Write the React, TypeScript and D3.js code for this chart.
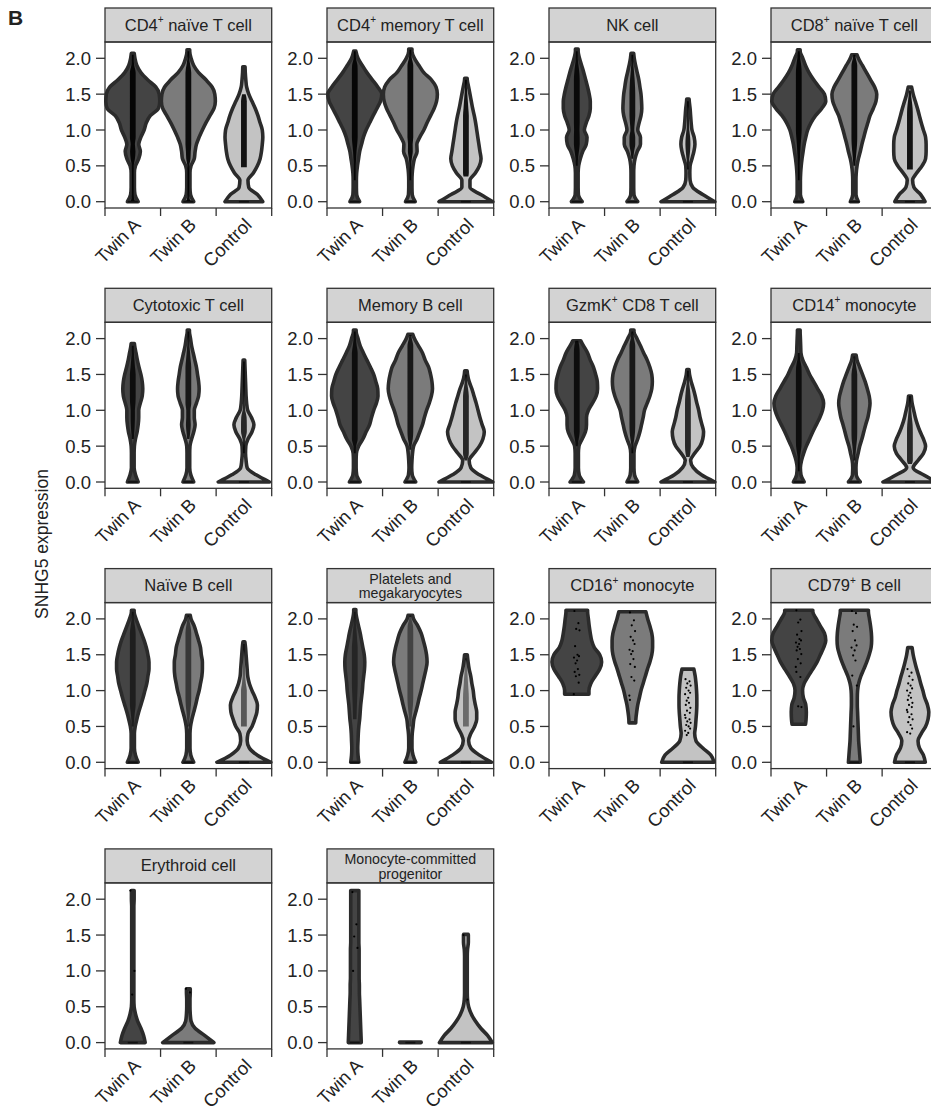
import * as d3 from "d3";

// groups, colours and axis values
const GROUPS = ["Twin A", "Twin B", "Control"];
const FILLS = ["#444444", "#7b7b7b", "#c3c3c3"];
const Y_TICKS = [0, 0.5, 1.0, 1.5, 2.0];
// violin widths are read at these expression levels
const Y_GRID = [0, 0.1, 0.2, 0.3, 0.4, 0.5, 0.6, 0.7, 0.8, 0.9, 1.0, 1.1, 1.2, 1.3, 1.4, 1.5, 1.6, 1.7, 1.8, 1.9, 2.0, 2.1];

// "^+" = superscript plus, "|" = line break
const TITLES = [
  "CD4^+ naïve T cell", "CD4^+ memory T cell", "NK cell", "CD8^+ naïve T cell",
  "Cytotoxic T cell", "Memory B cell", "GzmK^+ CD8 T cell", "CD14^+ monocyte",
  "Naïve B cell", "Platelets and|megakaryocytes", "CD16^+ monocyte", "CD79^+ B cell",
  "Erythroid cell", "Monocyte-committed|progenitor",
];

// lowest / highest value of each violin (Twin A, Twin B, Control); null = no cells
const LO: (number | null)[][] = [
  [0, 0, 0], [0, 0, 0], [0, 0, 0], [0, 0, 0],
  [0, 0, 0], [0, 0, 0], [0, 0, 0], [0, 0, 0],
  [0, 0, 0], [0, 0, 0], [0.95, 0.55, 0], [0.53, 0, 0],
  [0, 0, null], [0, 0, 0],
];
const HI: (number | null)[][] = [
  [2.07, 2.12, 1.88], [2.1, 2.13, 1.72], [2.13, 2.07, 1.43], [2.12, 2.05, 1.6],
  [1.93, 2.12, 1.7], [2.12, 2.06, 1.55], [1.97, 2.12, 1.57], [2.12, 1.77, 1.2],
  [2.12, 2.05, 1.68], [2.13, 2.05, 1.5], [2.12, 2.1, 1.3], [2.12, 2.12, 1.6],
  [2.12, 0.75, null], [2.12, 0, 1.51],
];

// relative half-widths at Y_GRID
const cd4Naive = [
  [.2, .08, .06, .06, .06, .1, .22, .28, .22, .3, .42, .5, .65, .95, 1, .98, .85, .55, .3, .15, .08, .04],
  [.2, .08, .06, .06, .06, .1, .22, .25, .3, .4, .52, .65, .8, .95, 1, .98, .88, .65, .38, .2, .1, .05],
  [.7, .5, .18, .15, .35, .5, .6, .65, .68, .7, .68, .6, .52, .42, .3, .18, .1, .07, .05, .04, .04, .04],
];
const cd4Memory = [
  [.18, .07, .06, .06, .07, .1, .14, .18, .25, .32, .42, .55, .68, .82, .95, 1, .85, .65, .45, .28, .12, .04],
  [.18, .07, .06, .06, .07, .1, .15, .25, .24, .35, .5, .62, .75, .88, .97, 1, .95, .78, .5, .32, .15, .06],
  [1, .55, .15, .15, .35, .5, .56, .52, .48, .44, .4, .36, .31, .25, .2, .15, .1, .05, .03, .03, .03, .03],
];
const nkCell = [
  [.2, .06, .05, .05, .05, .07, .13, .22, .35, .38, .28, .35, .45, .5, .5, .46, .4, .33, .26, .18, .1, .05],
  [.2, .06, .05, .05, .05, .06, .1, .18, .3, .3, .2, .25, .32, .35, .34, .32, .28, .24, .18, .12, .07, .04],
  [1, .55, .18, .08, .07, .08, .15, .22, .26, .23, .15, .12, .1, .08, .05, .03, .03, .03, .03, .03, .03, .03],
];
const cd8Naive = [
  [.15, .06, .06, .06, .07, .09, .12, .16, .2, .26, .33, .45, .62, .85, 1, .95, .75, .55, .38, .25, .15, .05],
  [.15, .06, .06, .06, .07, .1, .15, .22, .28, .35, .42, .5, .58, .7, .8, .83, .75, .6, .45, .3, .15, .05],
  [.56, .4, .15, .1, .25, .45, .58, .6, .6, .58, .5, .42, .35, .28, .2, .12, .06, .03, .03, .03, .03, .03],
];
const cytotoxic = [
  [.2, .1, .05, .05, .05, .06, .1, .16, .2, .22, .22, .28, .35, .37, .35, .3, .23, .17, .12, .07, .04, .03],
  [.2, .09, .05, .05, .05, .06, .12, .2, .25, .22, .22, .3, .38, .4, .38, .34, .3, .24, .18, .12, .08, .04],
  [.95, .45, .12, .08, .06, .07, .15, .3, .37, .28, .14, .1, .08, .07, .06, .05, .04, .03, .03, .03, .03, .03],
];
const memoryB = [
  [.2, .07, .05, .05, .06, .14, .3, .42, .55, .62, .7, .8, .86, .85, .78, .7, .58, .45, .32, .2, .12, .05],
  [.2, .07, .05, .06, .08, .12, .25, .35, .45, .52, .6, .7, .78, .82, .8, .75, .68, .55, .45, .3, .15, .05],
  [1, .5, .18, .12, .3, .5, .63, .68, .6, .52, .45, .38, .3, .22, .12, .06, .03, .03, .03, .03, .03, .03],
];
const gzmkCd8 = [
  [.25, .09, .06, .06, .06, .08, .2, .32, .36, .36, .43, .58, .72, .77, .76, .7, .62, .5, .4, .25, .1, .04],
  [.2, .08, .06, .06, .06, .1, .2, .28, .34, .4, .45, .55, .65, .72, .74, .72, .65, .55, .42, .3, .17, .06],
  [1, .5, .2, .1, .25, .45, .55, .58, .52, .45, .4, .33, .27, .2, .12, .06, .03, .03, .03, .03, .03, .03],
];
const cd14Mono = [
  [.2, .08, .06, .1, .18, .28, .4, .52, .65, .78, .88, .92, .85, .7, .55, .4, .28, .15, .08, .07, .06, .05],
  [.22, .07, .06, .08, .14, .2, .28, .35, .42, .5, .55, .58, .55, .48, .4, .3, .2, .1, .05, .03, .03, .03],
  [1, .5, .12, .3, .5, .58, .5, .38, .28, .2, .14, .08, .05, .03, .03, .03, .03, .03, .03, .03, .03, .03],
];
const naiveB = [
  [.2, .1, .06, .06, .06, .09, .15, .22, .3, .38, .45, .52, .56, .6, .6, .56, .5, .42, .32, .22, .12, .05],
  [.2, .09, .06, .06, .06, .08, .13, .2, .27, .33, .4, .45, .5, .52, .52, .48, .45, .38, .3, .22, .1, .04],
  [1, .5, .2, .12, .15, .3, .4, .48, .5, .42, .3, .2, .14, .12, .1, .08, .06, .03, .03, .03, .03, .03],
];
const platelets = [
  [.15, .12, .11, .12, .13, .15, .18, .2, .22, .25, .28, .3, .33, .36, .37, .35, .3, .25, .2, .14, .08, .04],
  [.2, .1, .06, .06, .07, .1, .13, .2, .27, .33, .4, .46, .52, .58, .62, .6, .55, .48, .4, .28, .12, .05],
  [.95, .5, .18, .1, .18, .32, .4, .4, .35, .3, .27, .22, .18, .12, .08, .05, .03, .03, .03, .03, .03, .03],
];
const cd16Mono = [
  [.45, .45, .45, .45, .45, .45, .45, .45, .45, .45, .45, .52, .68, .85, .92, .85, .65, .55, .5, .46, .43, .4],
  [.12, .12, .12, .12, .12, .12, .13, .16, .2, .26, .32, .4, .48, .56, .65, .72, .75, .75, .72, .65, .57, .5],
  [.97, .85, .55, .3, .25, .28, .3, .32, .33, .33, .32, .3, .27, .22, .22, .22, .22, .22, .22, .22, .22, .22],
];
const cd79B = [
  [.24, .24, .24, .24, .24, .24, .27, .28, .26, .17, .14, .2, .35, .52, .68, .8, .92, 1, .95, .8, .65, .52],
  [.22, .2, .18, .16, .15, .14, .13, .12, .11, .11, .12, .16, .24, .35, .46, .55, .62, .64, .63, .6, .56, .52],
  [.57, .5, .35, .3, .42, .58, .67, .7, .65, .55, .48, .4, .33, .25, .18, .12, .08, .03, .03, .03, .03, .03],
];
const erythroid = [
  [.46, .4, .3, .18, .1, .05, .04, .04, .04, .04, .04, .04, .04, .04, .04, .04, .04, .04, .04, .04, .05, .05],
  [.95, .6, .25, .1, .07, .06, .06, .07, .07, .03, .03, .03, .03, .03, .03, .03, .03, .03, .03, .03, .03, .03],
  [],
];
const monoProgenitor = [
  [.24, .23, .22, .21, .2, .19, .18, .17, .17, .16, .16, .16, .16, .16, .15, .15, .15, .15, .15, .15, .15, .15],
  [.4, .4, .4, .4, .4, .4, .4, .4, .4, .4, .4, .4, .4, .4, .4, .4, .4, .4, .4, .4, .4, .4],
  [.98, .8, .55, .35, .2, .1, .06, .05, .05, .05, .05, .05, .05, .06, .09, .09, .03, .03, .03, .03, .03, .03],
];
const WIDTHS = [cd4Naive, cd4Memory, nkCell, cd8Naive, cytotoxic, memoryB, gzmkCd8, cd14Mono,
  naiveB, platelets, cd16Mono, cd79B, erythroid, monoProgenitor];

// range covered by the dense column of cells (panels with many cells)
const CELL_RANGE = [
  [[0, 2.05], [0, 2.1], [0.48, 1.5]],
  [[0.3, 2.1], [0.3, 2.12], [0.35, 1.7]],
  [[0.5, 2.1], [0.6, 2.05], [0.45, 1.4]],
  [[0.3, 2.1], [0.5, 2.05], [0.45, 1.55]],
  [[0.6, 1.9], [0.6, 2.1], [0.4, 1.68]],
  [[0.4, 2.1], [0.45, 2.05], [0.3, 1.5]],
  [[0.5, 1.97], [0.4, 2.1], [0.35, 1.55]],
  [[0.15, 1.8], [0.3, 1.75], [0.25, 1.2]],
  [[0.5, 2.1], [0.5, 2.05], [0.5, 1.65]],
  [[0.6, 2.1], [0.5, 2.05], [0.5, 1.45]],
];
const CELL_DENSITY = [0.9, 0.9, 0.85, 0.9, 0.8, 0.8, 0.8, 0.8, 0.55, 0.45];

// individual cells (panels with few cells)
const cd16Cells = [
  [2.11, 1.94, 1.86, 1.84, 1.62, 1.5, 1.48, 1.46, 1.42, 1.38, 1.3, 1.26, 1.22, 1.2, 1.11, 0.95],
  [2.09, 1.98, 1.91, 1.83, 1.75, 1.7, 1.65, 1.57, 1.55, 1.51, 1.44, 1.37, 1.33, 1.19, 1.14, 0.93, 0.87],
  [1.16, 1.13, 1.1, 1.07, 1.04, 1.0, 0.97, 0.95, 0.9, 0.86, 0.83, 0.8, 0.76, 0.72, 0.69, 0.66, 0.62, 0.6, 0.57, 0.55, 0.52, 0.5, 0.47, 0.44, 0.41, 0.38],
];
const cd79Cells = [
  [2.12, 1.99, 1.95, 1.83, 1.78, 1.72, 1.7, 1.67, 1.65, 1.61, 1.58, 1.56, 1.51, 1.44, 1.38, 1.33, 1.26, 1.19, 0.78, 0.77],
  [2.11, 2.08, 1.92, 1.89, 1.83, 1.7, 1.63, 1.6, 1.56, 1.49, 1.42, 1.21, 1.07, 0.5],
  [1.3, 1.25, 1.2, 1.15, 1.1, 1.07, 1.03, 1.0, 0.97, 0.93, 0.9, 0.87, 0.83, 0.8, 0.77, 0.73, 0.7, 0.67, 0.63, 0.6, 0.56, 0.52, 0.47, 0.42, 0.4],
];
const erythroidCells = [[2.12, 1.0, 0.67], [0.75, 0.7], []];
const monoProgCells = [[2.1, 1.65, 1.48, 1.32, 1.0], [], [1.5, 0.6]];
const CELLS: (number[][] | null)[] = [null, null, null, null, null, null, null, null, null, null,
  cd16Cells, cd79Cells, erythroidCells, monoProgCells];
const JITTER = [-2.4, 1.6, -0.6, 2.7, -1.7, 0.7, 2.2, -2.8, 0.3, -1.2, 1.1, -2.1, 2.5, -0.9, 1.9, -3.0];

const W = 931, H = 1112;
const COL_X = 105, COL_STEP = 222, PANEL_W = 166.7;
const ROW_Y = 8, ROW_STEP = 280.3, STRIP_H = 34, PLOT_H = 166;
const MAX_HW = 27;
const FONT = "'Liberation Sans', Arial, Helvetica, sans-serif";
const INK = "#222";
const TICK_FS = 18.5;

type Pt = { v: number; w: number };

function widthAt(w: number[], v: number) {
  const i = Math.max(0, Math.min(d3.bisectRight(Y_GRID, v) - 1, Y_GRID.length - 1));
  const j = Math.min(i + 1, Y_GRID.length - 1);
  if (i === j) return w[i];
  const t = (v - Y_GRID[i]) / (Y_GRID[j] - Y_GRID[i]);
  return w[i] + (w[j] - w[i]) * t;
}

function profile(w: number[], lo: number, hi: number): Pt[] {
  if (hi - lo < 0.01) return [{ v: lo, w: w[0] }, { v: lo + 0.006, w: w[0] }];
  const vs = [lo, ...Y_GRID.filter((g) => g > lo + 1e-6 && g < hi - 1e-6), hi];
  return vs.map((v) => ({ v, w: widthAt(w, v) }));
}

function Title({ text, cx, top }: { text: string; cx: number; top: number }) {
  const lines = text.split("|");
  const two = lines.length > 1;
  return (
    <>
      {lines.map((ln, k) => {
        const parts = ln.split("^+");
        const y = two ? top + 15 + k * 14.6 : top + 22.5;
        return (
          <text key={k} x={cx} y={y} textAnchor="middle" fontSize={two ? 14.2 : 16.5} fill={INK} fontFamily={FONT}>
            {parts[0]}
            {parts.length > 1 && (
              <>
                <tspan fontSize={10} dy={-7.5}>+</tspan>
                <tspan dy={7.5}>{parts[1]}</tspan>
              </>
            )}
          </text>
        );
      })}
    </>
  );
}

function Panel({ idx }: { idx: number }) {
  const row = Math.floor(idx / 4);
  const col = idx % 4;
  const left = COL_X + col * COL_STEP;
  const top = ROW_Y + row * ROW_STEP;
  const plotTop = top + STRIP_H;
  const plotBottom = plotTop + PLOT_H;

  const y = d3.scaleLinear().domain([0, 2]).range([top + 193.7, top + 50.3]);
  const x = d3.scaleBand<string>().domain(GROUPS).range([left, left + PANEL_W]);
  const bw = x.bandwidth();

  const violin = d3.area<Pt>()
    .y((d) => y(d.v))
    .curve(d3.curveMonotoneY);

  const cells = CELLS[idx];

  return (
    <g>
      {/* strip */}
      <rect x={left} y={top} width={PANEL_W} height={STRIP_H} fill="#d3d3d3" stroke="#333" strokeWidth={1.3} />
      <Title text={TITLES[idx]} cx={left + PANEL_W / 2} top={top} />
      {/* frame */}
      <rect x={left} y={plotTop} width={PANEL_W} height={PLOT_H} fill="none" stroke="#333" strokeWidth={1.3} />

      {GROUPS.map((g, gi) => {
        const lo = LO[idx][gi];
        const hi = HI[idx][gi];
        if (lo === null || hi === null) return null;
        const cx = (x(g) as number) + bw / 2;
        const pts = profile(WIDTHS[idx][gi], lo, hi);
        const body = violin
          .x0((d) => cx - d.w * MAX_HW)
          .x1((d) => cx + d.w * MAX_HW)(pts) as string;
        let column: string | null = null;
        if (!cells) {
          const [sLo, sHi] = CELL_RANGE[idx][gi];
          const sp = profile(WIDTHS[idx][gi], Math.max(sLo, lo), Math.min(sHi, hi));
          const half = (d: Pt) => 2.9 * Math.max(0.3, Math.min(1, d.w / 0.3));
          column = d3.area<Pt>()
            .y((d) => y(d.v))
            .x0((d) => cx - half(d))
            .x1((d) => cx + half(d))
            .curve(d3.curveMonotoneY)(sp) as string;
        }
        return (
          <g key={g}>
            <path d={body} fill={FILLS[gi]} stroke="#2b2b2b" strokeWidth={3.6} strokeLinejoin="round" />
            {column && <path d={column} fill="#000" opacity={CELL_DENSITY[idx]} />}
            {cells && cells[gi].map((v, k) => (
              <circle key={k} cx={cx + JITTER[k % JITTER.length]} cy={y(v)} r={1.1} fill="#000" />
            ))}
            {lo === 0 && (
              <line x1={cx - 5} x2={cx + 5} y1={y(0)} y2={y(0)} stroke="#111" strokeWidth={1.6} />
            )}
          </g>
        );
      })}

      {/* y axis */}
      {Y_TICKS.map((t) => (
        <g key={t}>
          <line x1={left - 9} x2={left} y1={y(t)} y2={y(t)} stroke="#333" strokeWidth={1.3} />
          <text x={left - 14} y={y(t) + 6.5} textAnchor="end" fontSize={TICK_FS} fill={INK} fontFamily={FONT}>
            {d3.format(".1f")(t)}
          </text>
        </g>
      ))}

      {/* x axis: ticks on the category boundaries */}
      {[...GROUPS.map((g) => x(g) as number), left + PANEL_W].map((tx, k) => (
        <line key={k} x1={tx} x2={tx} y1={plotBottom} y2={plotBottom + 8} stroke="#333" strokeWidth={1.3} />
      ))}
      {GROUPS.map((g) => {
        const ax = (x(g) as number) + bw / 2 + 9;
        const ay = plotBottom + 18;
        return (
          <text key={g} x={ax} y={ay} transform={`rotate(-45,${ax},${ay})`} textAnchor="end"
            fontSize={TICK_FS} fill={INK} fontFamily={FONT}>
            {g}
          </text>
        );
      })}
    </g>
  );
}

export default function App() {
  return (
    <svg width={W} height={H} viewBox={`0 0 ${W} ${H}`}
      style={{ position: "absolute", left: 0, top: 0, background: "#fff" }}>
      <rect width={W} height={H} fill="#fff" />
      <text x={8} y={25} fontSize={21} fontWeight="bold" fill={INK} fontFamily={FONT}>B</text>
      <text transform={`translate(48,544) rotate(-90)`} textAnchor="middle" fontSize={17.5} fill={INK} fontFamily={FONT}>
        SNHG5 expression
      </text>
      {TITLES.map((_, i) => <Panel key={i} idx={i} />)}
    </svg>
  );
}
